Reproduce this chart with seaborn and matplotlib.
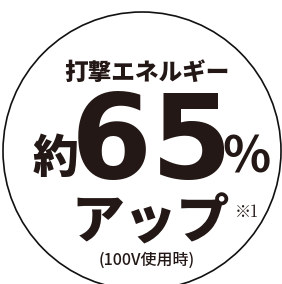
import matplotlib
matplotlib.use("Agg")
import matplotlib.pyplot as plt
import seaborn as sns
from matplotlib.patches import Circle

sns.set_theme(style="white")
plt.rcParams['font.family'] = ['Noto Sans CJK JP', 'DejaVu Sans']

title_text = "打撃エネルギー"
prefix_text = "約"
value_text = "65"
unit_text = "%"
suffix_text = "アップ"
note_text = "※1"
cond_text = "(100V使用時)"

ink = "#231815"

fig = plt.figure(figsize=(2.82, 2.84), dpi=100)
ax = fig.add_axes([0, 0, 1, 1])
ax.set_xlim(0, 282)
ax.set_ylim(284, 0)
ax.axis("off")

ax.add_patch(Circle((142, 151), 139, facecolor="white", edgecolor="#111111", lw=1.2))

ax.text(147, 73, title_text, ha="center", va="center", fontsize=17, fontweight="black", color=ink)
ax.text(56, 159, prefix_text, ha="center", va="center", fontsize=33, fontweight="black", color=ink)
ax.text(152, 145, value_text, ha="center", va="center", fontsize=84, fontweight="black", color=ink,
        family=['DejaVu Sans'])
ax.text(246, 158, unit_text, ha="center", va="center", fontsize=36, fontweight="bold", color=ink)
ax.text(151, 223, suffix_text, ha="center", va="center", fontsize=38, fontweight="black", color=ink)
ax.text(247, 212, note_text, ha="center", va="center", fontsize=11.5, color=ink,
        family=['Noto Serif CJK JP', 'DejaVu Serif'])
ax.text(147, 260, cond_text, ha="center", va="center", fontsize=11.5, fontweight="medium", color=ink)

fig.savefig("out.png", dpi=100)
